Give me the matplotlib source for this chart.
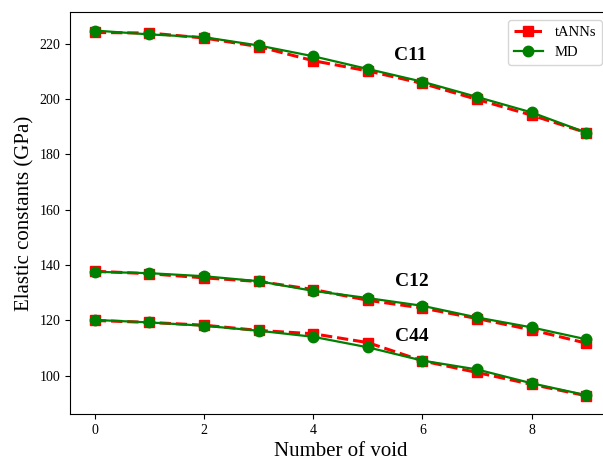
import numpy as np
import matplotlib
matplotlib.use("Agg")
import matplotlib.pyplot as plt

plt.rcParams['font.family'] = ['Liberation Serif', 'DejaVu Serif']

voids = np.arange(0, 10)

# C11
c11_ann = [224.1, 223.9, 222.1, 219.0, 213.9, 210.2, 205.7, 199.9, 194.2, 187.9]
c11_md = [224.8, 223.4, 222.4, 219.4, 215.5, 210.9, 206.3, 200.8, 195.2, 187.9]
# C12
c12_ann = [137.8, 136.9, 135.4, 134.1, 131.2, 127.3, 124.5, 120.7, 116.6, 111.8]
c12_md = [137.6, 137.1, 136.0, 134.2, 130.7, 128.1, 125.3, 121.1, 117.5, 113.2]
# C44
c44_ann = [120.0, 119.3, 118.3, 116.4, 115.2, 112.0, 105.4, 101.2, 96.9, 92.8]
c44_md = [120.2, 119.3, 118.1, 116.3, 114.1, 110.3, 105.5, 102.3, 97.3, 93.0]

labels = ["C11", "C12", "C44"]
label_pos = [(5.77, 215.7), (5.8, 134.2), (5.8, 114.2)]

fig = plt.figure(figsize=(6.03, 4.62), dpi=100)
ax = fig.add_axes([0.1166, 0.1039, 0.8964, 0.8695])

series = [(c11_ann, c11_md), (c12_ann, c12_md), (c44_ann, c44_md)]
for i, (ann, md) in enumerate(series):
    ax.plot(voids, ann, color='red', ls='--', lw=2.2, marker='s', ms=7,
            label='tANNs' if i == 0 else None)
for i, (ann, md) in enumerate(series):
    ax.plot(voids, md, color='green', ls='-', lw=1.6, marker='o', ms=7.5,
            label='MD' if i == 0 else None)

for lab, (x, y) in zip(labels, label_pos):
    ax.text(x, y, lab, fontsize=14, fontweight='bold', ha='center', va='center')

ax.set_xlim(-0.45, 9.45)
ax.set_ylim(86.2, 231.4)
ax.set_xticks([0, 2, 4, 6, 8])
ax.set_yticks([100, 120, 140, 160, 180, 200, 220])
ax.tick_params(labelsize=10)
ax.set_xlabel("Number of void", fontsize=15)
ax.set_ylabel("Elastic constants (GPa)", fontsize=15)

ax.legend(loc='upper right', bbox_to_anchor=(0.998, 0.957),
          bbox_transform=fig.transFigure, borderaxespad=0, fontsize=10.5)

fig.savefig("out.png", dpi=100)
